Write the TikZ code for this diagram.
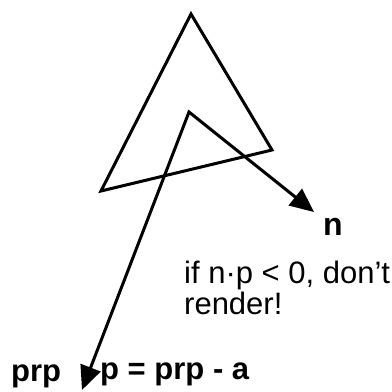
\documentclass[tikz,border=0pt]{standalone}
\usepackage{fontspec}
\setmainfont{Liberation Sans}
\usetikzlibrary{arrows.meta}

\begin{document}
\begin{tikzpicture}[
  x=1pt,y=-1pt,
  face/.style={line width=3pt,line join=miter},
  ray/.style={line width=3pt,{Triangle[length=24pt,width=21pt]}-{Triangle[length=24pt,width=21pt]}},
  lbl/.style={font=\fontsize{31}{31}\selectfont\bfseries,inner sep=0pt,anchor=base west},
  note/.style={font=\fontsize{31}{31}\selectfont,align=left,inner sep=0pt,anchor=base west}
]
\useasboundingbox (0,0) rectangle (392,392);
% triangle seen from behind
\coordinate (top) at (191,14);
\coordinate (left) at (101,191);
\coordinate (right) at (272,150);
\draw[face] (top) -- (right) -- (left) -- cycle;
% normal and view vector from point a
\coordinate (a) at (189,112);
\coordinate (ntip) at (314,212);
\coordinate (prptip) at (82,390);
\draw[ray] (ntip) -- (a) -- (prptip);
\node[lbl,font=\fontsize{32}{32}\selectfont\bfseries,anchor=base] (n) at (333,235) {n};
\node[note] (cond) at (184,314) {if n·p < 0, don’t\\render!};
\node[lbl] (prp) at (11,381) {prp};
\node[lbl] (pdef) at (100,379) {p = prp - a};
\end{tikzpicture}
\end{document}
